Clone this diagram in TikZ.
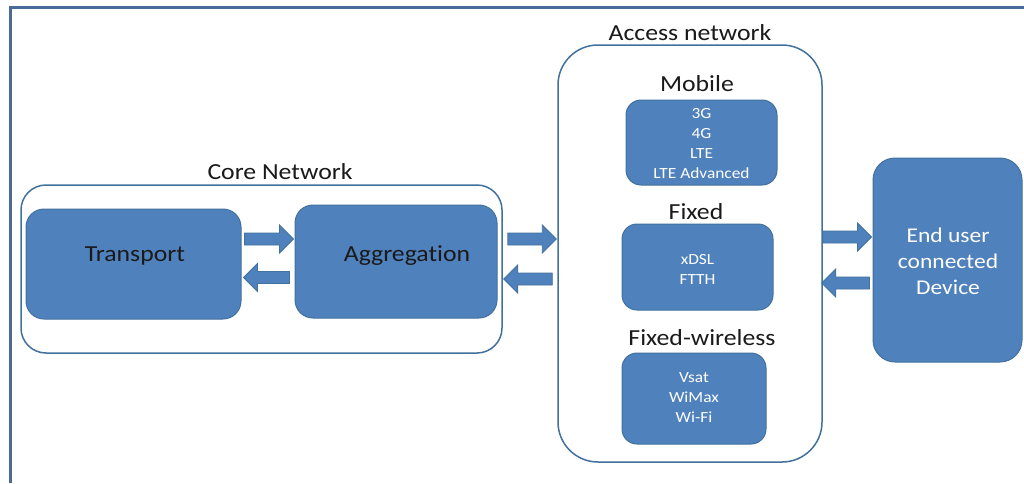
\documentclass[tikz,border=0pt]{standalone}
\usepackage{fontspec}
\setmainfont{Carlito}[FakeStretch=1.12, Ligatures=NoCommon]
\usetikzlibrary{calc}
\definecolor{boxfill}{HTML}{4F81BD}
\definecolor{boxline}{HTML}{41719C}
\definecolor{frameline}{HTML}{4A6A9A}
\definecolor{ink}{HTML}{1A1A1A}
\tikzset{
  container/.style={draw=boxline, line width=1.5pt, rounded corners=#1, fill=white},
  bluebox/.style={draw=boxline, line width=1pt, fill=boxfill, rounded corners=#1},
  grouplabel/.style={text=ink, font=\fontsize{23}{26}\selectfont},
  smalltext/.style={text=white, font=\fontsize{15.5}{20}\selectfont, align=center},
  bigtext/.style={font=\fontsize{23}{26}\selectfont, align=center},
  blockarrow/.style={draw=boxline, line width=0.8pt, fill=boxfill, line join=miter},
}
% horizontal block arrow from coordinate #1 to coordinate #2
\newcommand{\blockarrow}[2]{%
  \path[blockarrow] let \p1=(#1), \p2=(#2), \n1={sign(\x2-\x1)} in
    (\x1,\y1+6pt) -- (\x2-\n1*14pt,\y1+6pt) -- (\x2-\n1*14pt,\y1+14pt) --
    (\x2,\y1) -- (\x2-\n1*14pt,\y1-14pt) -- (\x2-\n1*14pt,\y1-6pt) --
    (\x1,\y1-6pt) -- cycle;}
\begin{document}
\begin{tikzpicture}[x=1pt,y=-1pt]
\useasboundingbox (0,0) rectangle (1024,483);
\fill[white] (0,0) rectangle (1024,483);

% outer frame
\draw[frameline, line width=2.5pt] (10.5,483) -- (10.5,7.5) -- (1024,7.5);

% core network
\node[container=25pt, minimum width=481pt, minimum height=168pt] (core) at (261.5,269) {};
\node[grouplabel] (corelbl) at (280,172) {Core Network};
\node[bluebox=18pt, minimum width=215pt, minimum height=110pt] (tr) at (133.5,264) {};
\node[bigtext, text=ink] (trtxt) at (135,256) {Transport};
\node[bluebox=18pt, minimum width=202pt, minimum height=113pt] (ag) at (396,261.5) {};
\node[bigtext, text=ink] (agtxt) at (407,256) {Aggregation};

% access network
\node[container=40pt, minimum width=264pt, minimum height=417pt] (acc) at (690,253.5) {};
\node[grouplabel] (acclbl) at (690,33) {Access network};

\node[grouplabel] (moblbl) at (697,84) {Mobile};
\node[bluebox=15pt, minimum width=151pt, minimum height=85pt] (mob) at (701.5,142.5) {};
\node[smalltext] (mobtxt) at (701.5,143.5) {3G\\4G\\LTE\\LTE Advanced};

\node[grouplabel] (fixlbl) at (696,212) {Fixed};
\node[bluebox=15pt, minimum width=151pt, minimum height=86pt] (fix) at (697.5,267) {};
\node[smalltext] (fixtxt) at (697.5,269) {xDSL\\FTTH};

\node[grouplabel] (fwlbl) at (702,338) {Fixed-wireless};
\node[bluebox=15pt, minimum width=144pt, minimum height=91pt] (fw) at (694,398.5) {};
\node[smalltext] (fwtxt) at (694,398) {Vsat\\WiMax\\Wi-Fi};

% end user device
\node[bluebox=22pt, minimum width=149pt, minimum height=204pt] (dev) at (947.5,260) {};
\node[bigtext, text=white, font=\fontsize{21}{26}\selectfont] (devtxt) at (948,261) {End user\\connected\\Device};

% arrow end points
\coordinate (a1s) at ([xshift=3pt]tr.east |- 0,239);
\coordinate (a1e) at ([xshift=-1pt]ag.west |- 0,239);
\coordinate (a2s) at ([xshift=-5pt]ag.west |- 0,277.5);
\coordinate (a2e) at ([xshift=2pt]tr.east |- 0,277.5);
\coordinate (a3s) at ([xshift=5pt]core.east |- 0,239);
\coordinate (a3e) at ([xshift=-1pt]acc.west |- 0,239);
\coordinate (a4s) at ([xshift=-5pt]acc.west |- 0,279);
\coordinate (a4e) at ([xshift=1pt]core.east |- 0,279);
\coordinate (a5s) at (acc.east |- 0,237);
\coordinate (a5e) at ([xshift=-1pt]dev.west |- 0,237);
\coordinate (a6s) at ([xshift=-3pt]dev.west |- 0,283);
\coordinate (a6e) at ([xshift=-1pt]acc.east |- 0,283);

\blockarrow{a1s}{a1e}
\blockarrow{a2s}{a2e}
\blockarrow{a3s}{a3e}
\blockarrow{a4s}{a4e}
\blockarrow{a5s}{a5e}
\blockarrow{a6s}{a6e}
\end{tikzpicture}
\end{document}
